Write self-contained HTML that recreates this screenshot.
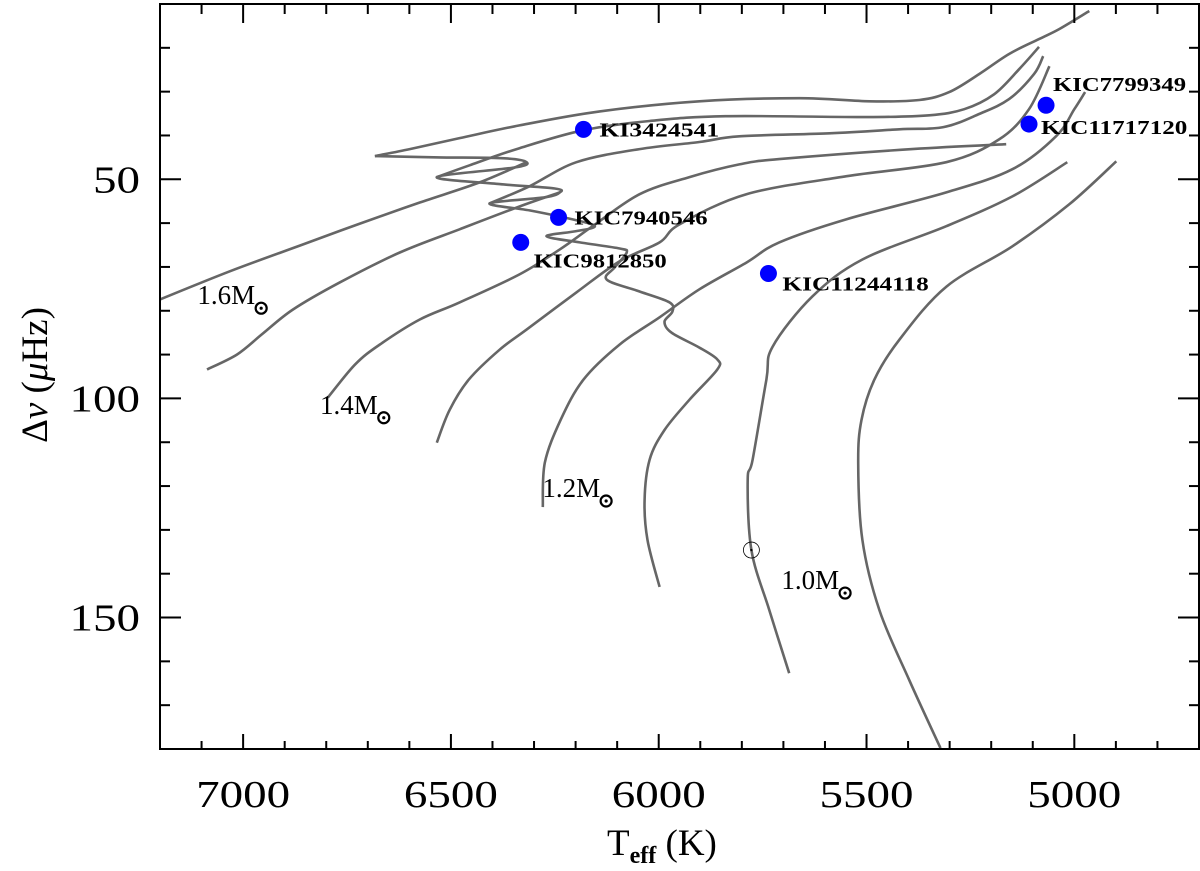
<!DOCTYPE html>
<html><head><meta charset="utf-8"><title>Teff vs Delta nu</title>
<style>
html,body{margin:0;padding:0;background:#fff;}
svg{display:block;font-family:"Liberation Serif",serif;}
</style></head>
<body>
<svg id="chart" width="1200" height="871" viewBox="0 0 1200 871" xmlns="http://www.w3.org/2000/svg">
<defs><clipPath id="plotclip"><rect x="160" y="4" width="1039" height="745"/></clipPath></defs>
<g id="tracks" clip-path="url(#plotclip)"></g>
<g id="marks"></g>
<g id="axes"></g>
<text x="607" y="855" font-family="Liberation Serif,serif" font-size="37">T<tspan font-size="24" font-weight="bold" dy="8">eff</tspan><tspan dy="-8"> (K)</tspan></text>
<text transform="translate(47,375) rotate(-90)" text-anchor="middle" font-family="Liberation Serif,serif" font-size="37">Δ<tspan font-style="italic">ν</tspan> (<tspan font-style="italic">μ</tspan>Hz)</text>
</svg>
<script>
// axis ranges
const xDomain = [7200, 4700];
const yDomain = [10, 180];
const xMajorTicks = [7000, 6500, 6000, 5500, 5000];
const yMajorTicks = [50, 100, 150];

// evolutionary tracks (Teff K, Delta nu muHz)
const trackTopT = [6683,6599,6479,6335,6142,5902,5661,5493,5373,5301,5229,5157,5085,5036,4964];
const trackTopD = [44.7,43.1,40.6,37.7,34.5,32.2,31.5,32.2,31.9,30.1,26.0,21.4,18.0,15.7,11.6];
const track16T = [7200,7032,6863,6719,6575,6431,6318];
const track16D = [77.4,71.0,65.1,60.1,55.3,50.7,46.1];
const hookT = [6683,6527,6371,6318,6347,6534,6383,6250,6238,6274,6407,6311,6238,6166,6157,6202,6270,6190,6094,6077,6106,6125,6046,5974,5967,5986,5969,5902,5859,5859,5926,5986,6022,6034,6027,5998];
const hookD = [44.7,45.0,45.2,46.1,47.3,49.5,51.1,52.1,53.0,54.1,55.5,57.1,58.5,60.1,61.0,61.9,63.0,64.4,65.8,66.7,70.1,72.9,75.6,78.1,80.2,82.5,85.0,88.4,91.1,93.4,100.3,107.2,114.0,123.2,132.3,143.0];
const trackKIT = [6534,6455,6335,6181,6022,5839,5498,5349,5265,5193,5133,5085];
const trackKID = [49.5,46.8,42.9,38.8,36.7,35.6,35.8,35.4,34.0,30.6,24.9,19.8];
const track15T = [7087,7015,6955,6880,6767,6623,6479,6335,6238];
const track15D = [93.4,90.0,85.4,79.7,73.5,66.7,61.4,56.2,53.0];
const trackR3T = [6407,6311,6198,6046,5902,5806,5589,5421,5315,5229,5157,5097,5075];
const trackR3D = [55.5,51.6,46.1,43.1,41.5,40.2,39.5,38.6,38.1,35.1,31.7,26.0,21.9];
const track14T = [6796,6731,6671,6575,6479,6335,6238,6159,6046,5926,5806,5710,5390,5164];
const track14D = [99.8,92.3,87.7,82.0,78.1,71.7,66.0,60.7,53.4,49.5,46.6,45.4,43.1,42.0];
const track13T = [6534,6503,6457,6383,6318,6198,6094,5998,5950,5789,5548,5308,5181,5109,5060];
const track13D = [110.1,102.6,95.7,88.9,84.3,75.8,68.7,64.4,60.3,53.4,49.3,46.1,40.9,34.0,24.2];
const track12T = [6279,6274,6236,6181,6094,5998,5902,5789,5710,5548,5308,5149,5044,5000,4974];
const track12D = [124.8,114.7,104.9,95.7,87.7,81.5,75.1,69.0,64.4,59.1,53.0,47.7,40.2,34.0,30.1];
const track10T = [5686,5734,5777,5786,5774,5741,5726,5630,5510,5308,5149,5017];
const track10D = [162.7,148.3,134.6,118.6,114.0,95.7,88.2,76.7,68.3,60.7,53.9,46.1];
const track09T = [5322,5397,5469,5510,5520,5512,5481,5421,5308,5149,5012,4899];
const track09D = [179.8,164.3,148.3,132.3,114.7,104.9,95.7,86.6,74.5,65.3,55.7,45.9];

// stars
const starNames = ["KI3424541","KIC7940546","KIC9812850","KIC11244118","KIC11717120","KIC7799349"];
const starTeff = [6181,6241,6332,5736,5109,5068];
const starDnu = [38.6,58.7,64.4,71.5,37.4,33.1];
const sunTeff = 5777, sunDnu = 134.6;

// mass labels
const massLabels = ["1.6","1.4","1.2","1.0"];
const massLabelT = [7110,6815,6280,5705];
const massLabelD = [78.5,103.5,122.5,143.5];

const L=160,R=1199,T=4,B=749;
function xs(t){return L+(t-xDomain[0])/(xDomain[1]-xDomain[0])*(R-L);}
function ys(d){return T+(d-yDomain[0])/(yDomain[1]-yDomain[0])*(B-T);}
const NS="http://www.w3.org/2000/svg";
function mk(tag,attrs,parent){const e=document.createElementNS(NS,tag);for(const k in attrs)e.setAttribute(k,attrs[k]);parent.appendChild(e);return e;}
function smoothPath(ts,ds){
  const p=ts.map((t,i)=>[xs(t),ys(ds[i])]);
  let s="M"+p[0][0].toFixed(1)+","+p[0][1].toFixed(1);
  for(let i=0;i<p.length-1;i++){
    const p0=p[i-1]||p[i],p1=p[i],p2=p[i+1],p3=p[i+2]||p2;
    const c1=[p1[0]+(p2[0]-p0[0])/6,p1[1]+(p2[1]-p0[1])/6];
    const c2=[p2[0]-(p3[0]-p1[0])/6,p2[1]-(p3[1]-p1[1])/6];
    s+=" C"+c1[0].toFixed(1)+","+c1[1].toFixed(1)+" "+c2[0].toFixed(1)+","+c2[1].toFixed(1)+" "+p2[0].toFixed(1)+","+p2[1].toFixed(1);
  }
  return s;
}
const trackG=document.getElementById('tracks');
const trackList=[[trackTopT,trackTopD,'track-top'],[track16T,track16D,'track-1-6'],[hookT,hookD,'track-hook'],[trackKIT,trackKID,'track-upper-1'],[track15T,track15D,'track-1-5'],[trackR3T,trackR3D,'track-upper-2'],[track14T,track14D,'track-1-4'],[track13T,track13D,'track-1-3'],[track12T,track12D,'track-1-2'],[track10T,track10D,'track-1-0'],[track09T,track09D,'track-0-9']];
trackList.forEach(tr=>{
  const p=mk('path',{d:smoothPath(tr[0],tr[1]),fill:'none',stroke:'#666','stroke-width':2.6,'stroke-linejoin':'round'},trackG);
  
  
});
const marks=document.getElementById('marks');
const sunC=mk('circle',{cx:xs(sunTeff),cy:ys(sunDnu),r:8,fill:'none',stroke:'#000','stroke-width':0.8},marks);


mk('circle',{cx:xs(sunTeff),cy:ys(sunDnu),r:1.2,fill:'#000'},marks);
const labelOff=[[16,7],[16,7],[13,25],[14,17],[12,10],[7,-14]];
starNames.forEach((n,i)=>{
  const cx=xs(starTeff[i]),cy=ys(starDnu[i]);
  const c=mk('circle',{cx:cx,cy:cy,r:8.5,fill:'#0000ff'},marks);
  
  
  const t=mk('text',{x:cx+labelOff[i][0],y:cy+labelOff[i][1],'font-size':20,'font-weight':'bold',fill:'#000',textLength:n.length*13.3,lengthAdjust:'spacingAndGlyphs'},marks);
  t.textContent=n;
  
  
});
massLabels.forEach((m,i)=>{
  const x=xs(massLabelT[i]),y=ys(massLabelD[i]);
  const t=mk('text',{x:x,y:y,'font-size':27,fill:'#000'},marks);
  t.textContent=m+'M';
  
  
  const w=t.getComputedTextLength();
  mk('circle',{cx:x+w+6,cy:y+4,r:5.5,fill:'none',stroke:'#000','stroke-width':2.2},marks);
  mk('circle',{cx:x+w+6,cy:y+4,r:1.6,fill:'#000'},marks);
});
const ax=document.getElementById('axes');
const frame=mk('rect',{x:L,y:T,width:R-L,height:B-T,fill:'none',stroke:'#000','stroke-width':2},ax);


for(let t=7100;t>=4800;t-=100){
  const x=xs(t);const major=(t%500===0);
  const lb=major?15:8, lt=major?19:10;
  mk('line',{x1:x,y1:B,x2:x,y2:B-lb,stroke:'#000','stroke-width':2},ax);
  mk('line',{x1:x,y1:T,x2:x,y2:T+lt,stroke:'#000','stroke-width':2},ax);
}
for(let d=20;d<=170;d+=10){
  const y=ys(d);const major=(d%50===0);const l=major?21:10;
  mk('line',{x1:L,y1:y,x2:L+l,y2:y,stroke:'#000','stroke-width':2},ax);
  mk('line',{x1:R,y1:y,x2:R-l,y2:y,stroke:'#000','stroke-width':2},ax);
}
xMajorTicks.forEach(t=>{
  const e=mk('text',{x:xs(t),y:807,'font-size':38,'text-anchor':'middle',fill:'#000',textLength:94,lengthAdjust:'spacingAndGlyphs'},ax);
  e.textContent=t;
  
  
});
yMajorTicks.forEach(d=>{
  const e=mk('text',{x:140,y:ys(d)+13,'font-size':38,'text-anchor':'end',fill:'#000',textLength:String(d).length*23.5,lengthAdjust:'spacingAndGlyphs'},ax);
  e.textContent=d;
  
  
});
</script>
</body></html>
